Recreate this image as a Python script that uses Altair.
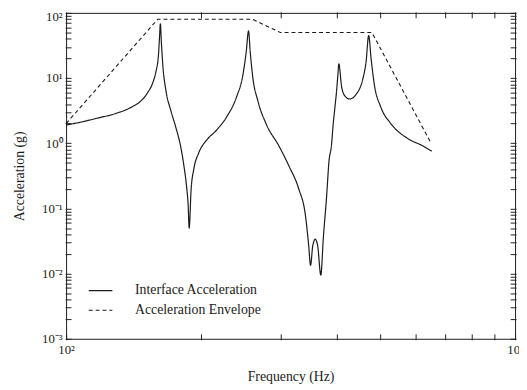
import altair as alt
import pandas as pd

# Interface acceleration (solid curve)
freq = [100, 108.6, 118.1, 128.5, 139.8, 147, 152, 156, 158.6, 160.6, 161.4, 162.2,
        163.0, 164.2, 166.9, 171.1, 175.4, 179.9, 183.0, 185.4, 187.0, 188.0,
        189.9, 192.5, 197.4, 205.9, 216.6, 227.8, 239.5, 247.7, 251.9, 254.9,
        257.1, 260.6, 267.3, 278.7, 298.1, 313.5, 329.7, 341.1, 346.8, 350.4,
        354.3, 358.9, 363.4, 369.3, 374.1, 380.6, 385.1, 389.9, 393.6, 397.0,
        400.4, 403.1, 405.1, 410.6, 417.5, 428.1, 442.9, 457.8, 465.8, 472.0,
        477.8, 485.8, 502.4, 528.5, 574.6, 625.2, 652.2]
accel = [1.90, 2.13, 2.45, 2.84, 3.58, 4.5, 6.0, 8.5, 12.7, 22.6, 40, 68,
         36, 16.0, 6.36, 3.18, 1.79, 0.90, 0.45, 0.225, 0.113, 0.050,
         0.198, 0.40, 0.71, 1.13, 1.60, 2.53, 5.06, 11.3, 25.3, 53,
         25.3, 10.1, 4.5, 2.01, 0.90, 0.45, 0.20, 0.080, 0.0283, 0.0134,
         0.0267, 0.0337, 0.0267, 0.0095, 0.0356, 0.16, 0.535, 0.91, 2.01, 3.58,
         6.36, 11.3, 16.5, 7.56, 5.35, 4.77, 5.67, 9.53, 17.9, 45,
         20.2, 8.02, 3.58, 2.01, 1.20, 0.90, 0.756]

# Acceleration envelope (dashed)
env_freq = [100, 160, 260, 300, 480, 650]
env_accel = [2.0, 80, 80, 50, 50, 1.0]

series_names = ["Interface Acceleration", "Acceleration Envelope"]

x_ticks = [100, 200, 300, 400, 500, 600, 700, 800, 900, 1000]
y_ticks = [0.001, 0.002, 0.003, 0.004, 0.005, 0.006, 0.007, 0.008, 0.009,
           0.01, 0.02, 0.03, 0.04, 0.05, 0.06, 0.07, 0.08, 0.09,
           0.1, 0.2, 0.3, 0.4, 0.5, 0.6, 0.7, 0.8, 0.9,
           1, 2, 3, 4, 5, 6, 7, 8, 9,
           10, 20, 30, 40, 50, 60, 70, 80, 90, 100]

df1 = pd.DataFrame({"f": freq, "a": accel, "s": series_names[0]})
df2 = pd.DataFrame({"f": env_freq, "a": env_accel, "s": series_names[1]})

FONT = "Liberation Serif"
INK = "#1a1a1a"

xscale = alt.Scale(type="log", domain=[100, 1000], nice=False)
yscale = alt.Scale(type="log", domain=[0.001, 100], nice=False)
dash_scale = alt.Scale(domain=series_names, range=[[1, 0], [4, 3]])

x_label_expr = "datum.value == 100 ? '10²' : (datum.value == 1000 ? '10³' : '')"
y_label_expr = ("datum.value == 100 ? '10²' : datum.value == 10 ? '10¹' : "
                "datum.value == 1 ? '10⁰' : datum.value == 0.1 ? '10⁻¹' : "
                "datum.value == 0.01 ? '10⁻²' : datum.value == 0.001 ? '10⁻³' : ''")

common_axis = dict(offset=-5, tickSize=6, domain=False, grid=False, tickColor="#222222",
                   labelFont=FONT, labelFontSize=13, labelColor=INK,
                   titleFont=FONT, titleFontSize=14, titleFontWeight="normal",
                   titleColor=INK, labelOverlap=False)

x_bottom = alt.Axis(orient="bottom", values=x_ticks, labelExpr=x_label_expr,
                    labelPadding=4, labelFlush=False, title="Frequency (Hz)",
                    titlePadding=13, **common_axis)
y_left = alt.Axis(orient="left", values=y_ticks, labelExpr=y_label_expr,
                  labelPadding=3, title="Acceleration (g)", titlePadding=15,
                  labelOffset=alt.condition("datum.value == 100", alt.value(4), alt.value(0)),
                  **common_axis)
x_top = alt.Axis(orient="top", values=x_ticks, labels=False, title=None, **common_axis)
y_right = alt.Axis(orient="right", values=y_ticks, labels=False, title=None, **common_axis)

legend = alt.Legend(title=None, orient="none", legendX=22, legendY=269,
                    symbolType="stroke", symbolSize=576, symbolStrokeWidth=1.2,
                    symbolStrokeColor=INK, labelFont=FONT, labelFontSize=14,
                    labelColor=INK, labelOffset=22, rowPadding=0, padding=0)

solid = alt.Chart(df1).mark_line(color=INK, strokeWidth=1.2, interpolate="monotone").encode(
    x=alt.X("f:Q", scale=xscale, axis=x_bottom),
    y=alt.Y("a:Q", scale=yscale, axis=y_left),
    strokeDash=alt.StrokeDash("s:N", scale=dash_scale, legend=legend),
)

dashed = alt.Chart(df2).mark_line(color=INK, strokeWidth=1.1).encode(
    x=alt.X("f:Q", scale=xscale, axis=x_top),
    y=alt.Y("a:Q", scale=yscale, axis=y_right),
    strokeDash=alt.StrokeDash("s:N", scale=dash_scale, legend=legend),
)

chart = alt.layer(solid, dashed).resolve_axis(
    x="independent", y="independent"
).properties(
    width=456, height=331,
    autosize=alt.AutoSizeParams(type="none"),
    padding={"left": 59, "top": 2, "right": 4, "bottom": 45},
).configure_view(stroke=INK, strokeWidth=1)

chart.save("out.html", embed_options={"renderer": "svg", "actions": False})
